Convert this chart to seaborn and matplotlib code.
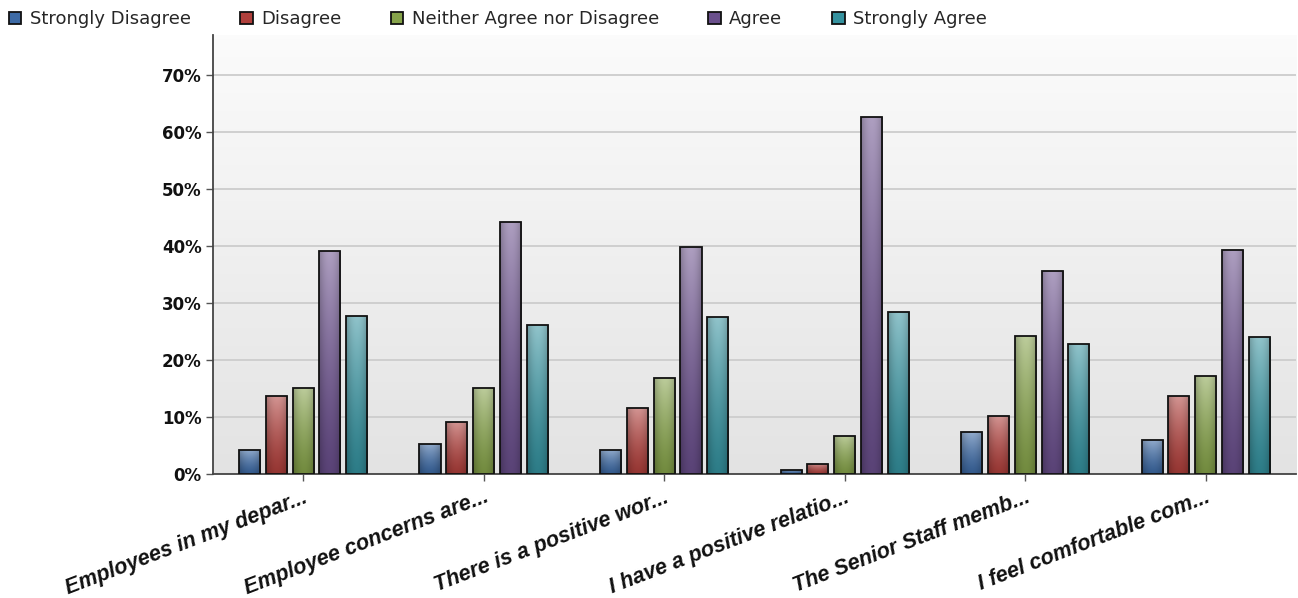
import numpy as np
import pandas as pd
import matplotlib
matplotlib.use("Agg")
import matplotlib.pyplot as plt
import seaborn as sns
from matplotlib.patches import Patch
from matplotlib.colors import to_rgb

statements = [
    "Employees in my depar...",
    "Employee concerns are...",
    "There is a positive wor...",
    "I have a positive relatio...",
    "The Senior Staff memb...",
    "I feel comfortable com...",
]
responses = ["Strongly Disagree", "Disagree", "Neither Agree nor Disagree",
             "Agree", "Strongly Agree"]

strongly_disagree = [4.3, 5.3, 4.3, 0.8, 7.4, 6.0]
disagree = [13.8, 9.2, 11.7, 1.8, 10.2, 13.8]
neither = [15.2, 15.2, 16.9, 6.7, 24.3, 17.3]
agree = [39.1, 44.3, 39.8, 62.6, 35.6, 39.4]
strongly_agree = [27.8, 26.1, 27.5, 28.5, 22.9, 24.0]

palette = ["#3d6aa5", "#b0403c", "#86a34a", "#6a4f8c", "#35929f"]

series = [strongly_disagree, disagree, neither, agree, strongly_agree]
df = pd.DataFrame({
    "statement": np.repeat([statements], len(responses), axis=0).ravel(),
    "response": np.repeat(responses, len(statements)),
    "pct": np.concatenate(series),
})

sns.set_theme(style="white")
plt.rcParams["font.family"] = ["DejaVu Sans"]

fig = plt.figure(figsize=(12.98, 5.98), dpi=100)
ax = fig.add_axes([0.164, 0.207, 0.8345, 0.734])

# soft vertical background wash
bg = np.linspace(0.89, 0.985, 256).reshape(-1, 1)
bg = np.dstack([bg, bg, bg])
ax.imshow(bg, extent=(0, 1, 0, 1), transform=ax.transAxes, aspect="auto",
          origin="lower", zorder=0)

sns.barplot(data=df, x="statement", y="pct", hue="response", order=statements,
            hue_order=responses, palette=palette, width=0.743, gap=0.215,
            edgecolor="#111111", linewidth=1.3, saturation=1, legend=False,
            ax=ax, zorder=3)

# shaded fill for each bar: pale at the top, richer at the base, darker edges
for patch in list(ax.patches):
    x0, y0 = patch.get_x(), patch.get_y()
    w, h = patch.get_width(), patch.get_height()
    if h <= 0:
        continue
    base = np.array(to_rgb(patch.get_facecolor()))
    v = np.linspace(0, 1, 64).reshape(-1, 1)          # 0 bottom -> 1 top
    u = np.linspace(-1, 1, 32).reshape(1, -1)
    light = 0.45 * v ** 1.3
    edge = 0.22 * np.abs(u) ** 2
    dark = 0.15 * (1 - v)
    img = base[None, None, :] * (1 - light[..., None]) + light[..., None]
    img = img * (1 - dark[..., None]) * (1 - edge[..., None])
    img = np.clip(img, 0, 1)
    im = ax.imshow(img, extent=(x0, x0 + w, y0, y0 + h), origin="lower",
                   aspect="auto", zorder=3.5, interpolation="bilinear")
    im.set_clip_path(patch)
    patch.set_facecolor("none")
    patch.set_zorder(4)

ax.set_xlim(-0.5, 5.5)
ax.set_ylim(0, 77)
ax.set_yticks(range(0, 71, 10))
ax.set_yticklabels([f"{v}%" for v in range(0, 71, 10)],
                   fontweight="bold", fontsize=12, color="#111111")
ax.yaxis.grid(True, color="#cfcfcf", linewidth=1.4, zorder=1)
ax.set_axisbelow(True)
ax.set_xlabel("")
ax.set_ylabel("")
ax.set_xticks(range(len(statements)))
ax.set_xticklabels(statements, rotation=21, ha="right", rotation_mode="anchor",
                   fontweight="bold", fontstyle="italic", fontsize=15.5,
                   family=["Liberation Sans", "DejaVu Sans"], color="#111111")
ax.tick_params(axis="x", length=5, width=1, color="#555555", pad=4)
ax.tick_params(axis="y", length=5, width=1, color="#555555", pad=3, left=True)
ax.tick_params(axis="x", bottom=True)

for side in ("top", "right"):
    ax.spines[side].set_visible(False)
for side in ("left", "bottom"):
    ax.spines[side].set_color("#444444")
    ax.spines[side].set_linewidth(1.3)

handles = [Patch(facecolor=c, edgecolor="#111111", linewidth=1.3) for c in palette]
fig.legend(handles, responses, loc="upper left", bbox_to_anchor=(-0.003, 1.004),
           ncol=5, frameon=False, fontsize=13, handlelength=0.7,
           handleheight=0.7, handletextpad=0.45, columnspacing=2.75,
           borderaxespad=0.3)

fig.savefig("out.png", dpi=100)
